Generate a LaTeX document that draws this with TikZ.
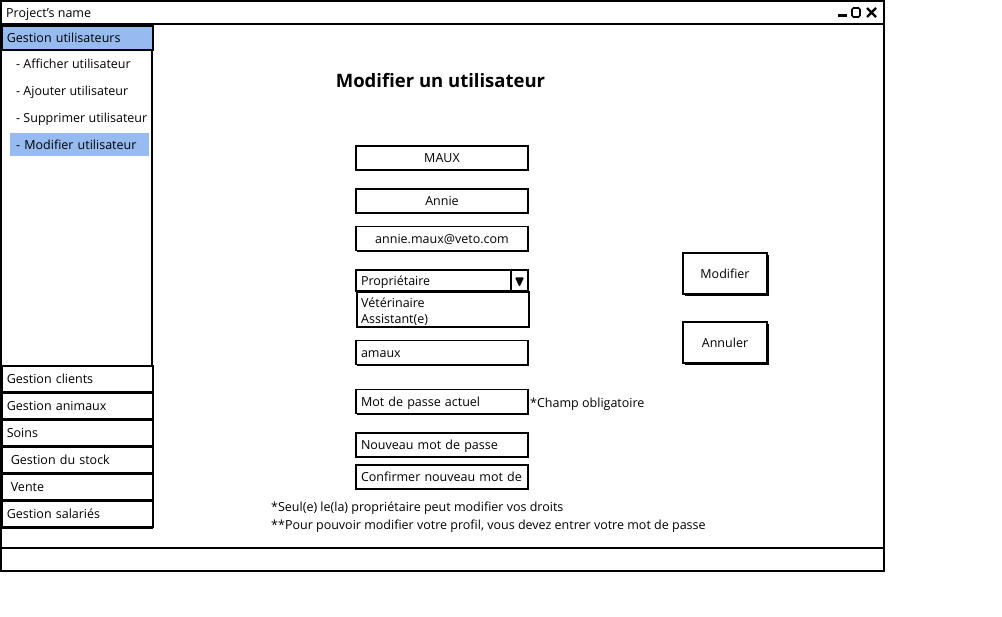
\documentclass[tikz,border=0pt]{standalone}
\usepackage{fontspec}
\setmainfont{Open Sans}
\usetikzlibrary{shadows}
\definecolor{selblue}{RGB}{150,187,240}
\begin{document}
\begin{tikzpicture}[x=1pt,y=-1pt,
  every node/.style={font=\fontsize{12.5}{14}\selectfont, inner sep=0pt, text height=11pt, text depth=1.5pt},
  frame/.style={draw, line width=1.6pt},
  fshadow/.style={drop shadow={shadow xshift=1.2pt, shadow yshift=-1.2pt, fill=black, opacity=1}},
  field/.style={frame, fill=white, fshadow, minimum height=24pt, text width=162pt, inner xsep=5pt, align=left},
  cfield/.style={field, align=center},
  sideitem/.style={frame, fill=white, anchor=north west, minimum height=26pt, text width=141pt, inner xsep=5pt, align=left},
  subitem/.style={anchor=west},
  button/.style={frame, fill=white, minimum width=84pt, minimum height=41pt, drop shadow={shadow xshift=2.2pt, shadow yshift=-2.2pt, fill=black, opacity=1}},
  note/.style={anchor=west}
]
\useasboundingbox (0,0) rectangle (1002,617);
\fill[white] (0,0) rectangle (1002,617);

% window
\draw[line width=1.6pt] (1,1) rectangle (884,571);
\draw[line width=1.6pt] (1,24) -- (884,24);
\draw[line width=1.6pt] (1,548) -- (884,548);
\node[anchor=west] (proj) at (6,12.5) {Project's name};
% window controls
\draw[line width=2.6pt] (838,15.5) -- (847,15.5);
\draw[line width=1.6pt, rounded corners=1.5pt] (852,8) rectangle (860,17);
\draw[line width=2.2pt] (867,8) -- (876,17) (876,8) -- (867,17);

% sidebar
\draw[line width=1.6pt] (1,24) rectangle (152,528);
\node[frame, fill=selblue, anchor=north west, minimum height=24pt, text width=141pt, inner xsep=5pt, align=left] (gu) at (1,25) {Gestion utilisateurs};
\node[subitem] (s1) at (16,63.5) {- Afficher utilisateur};
\node[subitem] (s2) at (16,90.5) {- Ajouter utilisateur};
\node[subitem] (s3) at (16,117.5) {- Supprimer utilisateur};
\node[fill=selblue, anchor=north west, minimum height=23pt, text width=127pt, inner xsep=6pt, align=left] (s4) at (10,133) {- Modifier utilisateur};

\node[sideitem] (gc) at (1,365) {Gestion clients};
\node[sideitem] (ga) at (1,392) {Gestion animaux};
\node[sideitem] (so) at (1,419) {Soins};
\node[sideitem] (gs) at (1,446) {\hspace*{4pt}Gestion du stock};
\node[sideitem] (ve) at (1,473) {\hspace*{4pt}Vente};
\node[sideitem] (gsa) at (1,500) {Gestion salariés};

% title
\node[font=\fontsize{18.5}{20}\selectfont\bfseries, text height=13pt, text depth=0pt] (title) at (440.5,81) {Modifier un utilisateur};

% fields
\node[cfield] (nom) at (442,158) {MAUX};
\node[cfield] (prenom) at (442,201) {Annie};
\node[cfield] (mail) at (442,238.5) {annie.maux@veto.com};
\node[field, minimum height=21pt] (combo) at (442,280.5) {Propriétaire};
\draw[line width=1.6pt] (511,270) -- (511,291);
\fill[rounded corners=1pt] (515,277.5) -- (524,277.5) -- (519.5,287) -- cycle;
\node[frame, fill=white, anchor=north west, minimum width=172pt, minimum height=35pt] (list) at (356,291) {};
\node[note] (opt1) at (361,302.5) {Vétérinaire};
\node[note] (opt2) at (361,318.5) {Assistant(e)};
\node[field] (login) at (442,352.5) {amaux};
\node[field] (mdp) at (442,401.5) {Mot de passe actuel};
\node[note] (oblig) at (530,402.5) {*Champ obligatoire};
\node[field] (nmdp) at (442,445) {Nouveau mot de passe};
\node[field] (cmdp) at (442,477) {Confirmer nouveau mot de};

% notes
\node[note] (n1) at (271,506.5) {*Seul(e) le(la) propriétaire peut modifier vos droits};
\node[note] (n2) at (271,524.5) {**Pour pouvoir modifier votre profil, vous devez entrer votre mot de passe};

% buttons
\node[button] (bmod) at (725,273.5) {Modifier};
\node[button] (bann) at (725,342.5) {Annuler};
\end{tikzpicture}
\end{document}
